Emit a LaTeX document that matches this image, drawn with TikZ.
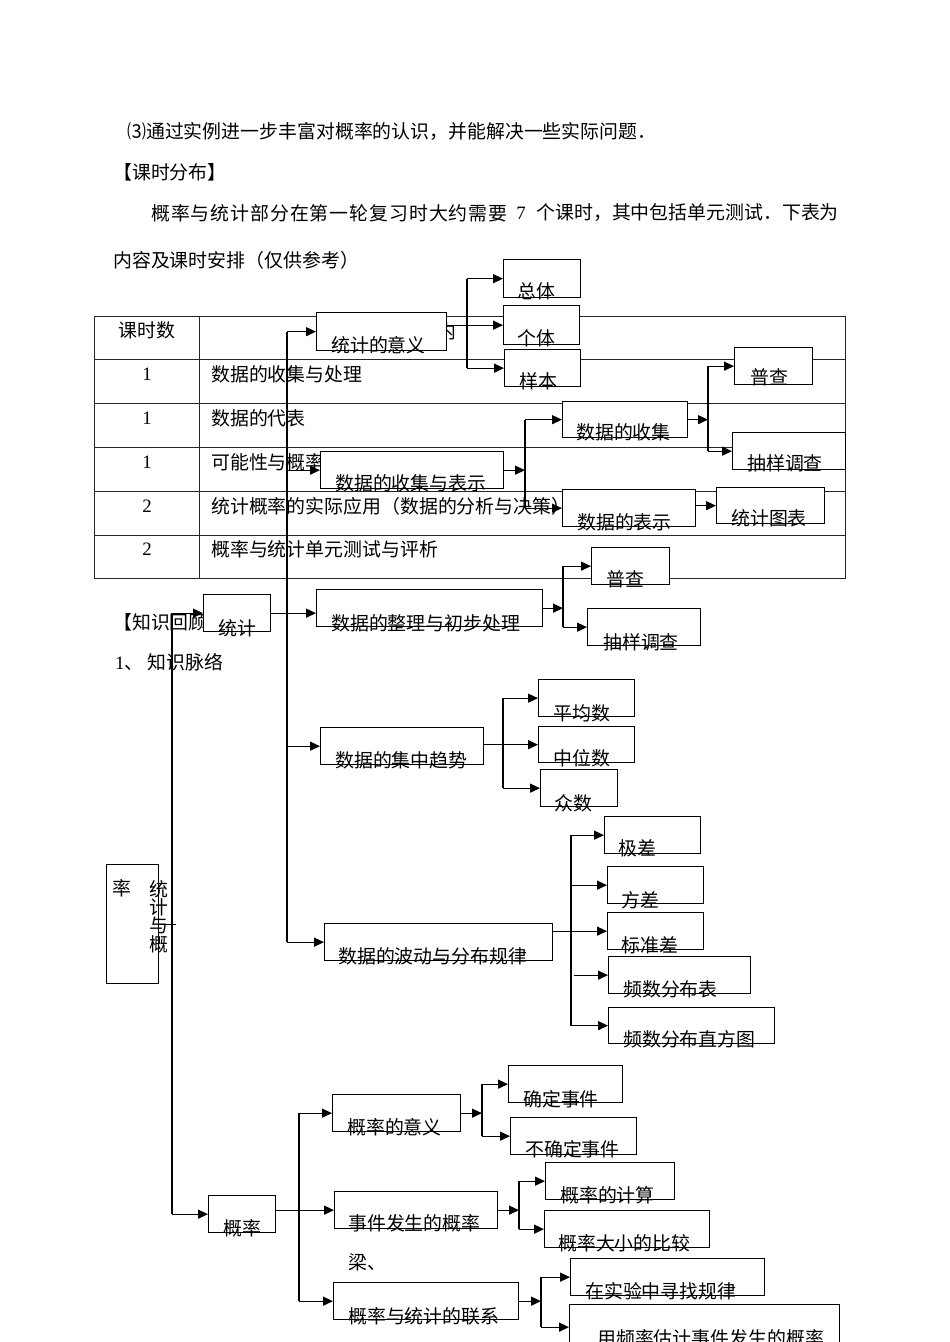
\documentclass[tikz,border=0pt]{standalone}
\usepackage{fontspec}
\setmainfont{Liberation Serif}
\newfontfamily\cjk{Noto Sans CJK SC}
\usetikzlibrary{arrows.meta}
\newcommand\fz{\fontsize{18.9}{20}\selectfont}
\newcommand\lbl[4]{\node[lb] (#1) at (#2,#3) {#4};}
\newcommand\bxn[6]{\node[bx, minimum width=#4, minimum height=#5] (#1) at (#2,#3) {}; #6}
\tikzset{
  bx/.style={draw, line width=1.3pt, fill=white, inner sep=0, anchor=north west},
  lb/.style={anchor=west, inner sep=0, font=\cjk\fz},
  num/.style={inner sep=0, font=\rmfamily\fz},
  tl/.style={line width=0.9pt, draw=black!85},
  ln/.style={line width=1.3pt},
  ar/.style={ln, -{Triangle[length=10pt,width=9pt]}}
}
\begin{document}
\begin{tikzpicture}[x=1pt,y=-1pt]
\useasboundingbox (0,0) rectangle (950,1342);
\clip (0,0) rectangle (950,1342);
\fill[white] (0,0) rectangle (950,1342);

% ---- paragraph text ----
\lbl{p1}{127}{131}{⑶通过实例进一步丰富对概率的认识，并能解决一些实际问题．}
\lbl{p2}{113}{172}{【课时分布】}
\lbl{p3a}{151}{213}{\addfontfeature{LetterSpace=5}概率与统计部分在第一轮复习时大约需要}
\node[num] (p3b) at (521,213) {7};
\node[lb, anchor=east] (p3c) at (839,213) {个课时，其中包括单元测试．下表为};
\lbl{p4}{113}{260}{内容及课时安排（仅供参考）}

% ---- table ----
\draw[tl] (94,316) rectangle (845,578);
\foreach \yy in {359,403,447,491,535} \draw[tl] (94,\yy) -- (845,\yy);
\draw[tl] (199,316) -- (199,578);
\node[lb, anchor=center] (h1) at (147,330) {课时数};
\lbl{h2}{437}{331}{内}
\node[num] (n1) at (147,374) {1};
\node[num] (n2) at (147,418) {1};
\node[num] (n3) at (147,462) {1};
\node[num] (n4) at (147,506) {2};
\node[num] (n5) at (147,549) {2};
\lbl{r1}{211}{374}{数据的收集与处理}
\lbl{r2}{211}{418}{数据的代表}
\lbl{r3}{211}{462}{可能性与概率}
\lbl{r4}{211}{506}{统计概率的实际应用（数据的分析与决策）}
\lbl{r5}{211}{549}{概率与统计单元测试与评析}

\lbl{k1}{113}{622}{【知识回顾】}
\lbl{k2}{115}{662}{\rmfamily 1\cjk 、 知识脉络}

% ---- boxes ----
\bxn{tjyy}{316}{312}{130}{38}{\lbl{t1}{331}{345}{统计的意义}}
\bxn{zt}{503}{259}{77}{38}{\lbl{t2}{517}{291}{总体}}
\bxn{gt}{503}{305}{76}{39}{\lbl{t3}{517}{338}{个体}}
\bxn{yb}{504}{349}{76}{37}{\lbl{t4}{519}{381}{样本}}
\bxn{sjsjbs}{320}{451}{183}{37}{\lbl{t5}{335}{483}{数据的收集与表示}}
\bxn{sjsj}{562}{401}{125}{36}{\lbl{t6}{576}{432}{数据的收集}}
\bxn{pc1}{734}{347}{78}{37}{\lbl{t7}{750}{377}{普查}}
\bxn{cy1}{732}{432}{113}{37}{\lbl{t8}{747}{463}{抽样调查}}
\bxn{sjbs}{562}{489}{133}{37}{\lbl{t9}{577}{522}{数据的表示}}
\bxn{tjtb}{716}{487}{108}{36}{\lbl{t10}{731}{518}{统计图表}}
\bxn{tj}{203}{594}{67}{37}{\lbl{t11}{218}{628}{统计}}
\bxn{zl}{316}{589}{226}{37}{\lbl{t12}{331}{623}{数据的整理与初步处理}}
\bxn{pc2}{591}{547}{78}{37}{\lbl{t13}{606}{579}{普查}}
\bxn{cy2}{587}{608}{113}{37}{\lbl{t14}{603}{642}{抽样调查}}
\bxn{jz}{320}{727}{163}{37}{\lbl{t15}{335}{760}{数据的集中趋势}}
\bxn{pjs}{538}{679}{96}{37}{\lbl{t16}{553}{713}{平均数}}
\bxn{zws}{538}{726}{96}{36}{\lbl{t17}{553}{758}{中位数}}
\bxn{zs}{540}{769}{77}{37}{\lbl{t18}{554}{803}{众数}}
\bxn{bd}{324}{923}{228}{37}{\lbl{t19}{338}{956}{数据的波动与分布规律}}
\bxn{jc}{604}{816}{96}{37}{\lbl{t20}{618}{848}{极差}}
\bxn{fc}{607}{866}{96}{37}{\lbl{t21}{621}{900}{方差}}
\bxn{bzc}{607}{912}{96}{37}{\lbl{t22}{621}{945}{标准差}}
\bxn{pb}{608}{956}{142}{37}{\lbl{t23}{623}{989}{频数分布表}}
\bxn{zft}{608}{1007}{166}{36}{\lbl{t24}{623}{1039}{频数分布直方图}}
\bxn{root}{106}{864}{52}{119}{}
\node[lb, anchor=center] (rt0) at (122,888) {率};
\node[lb, anchor=center] (rt1) at (158.5,889) {统};
\node[lb, anchor=center] (rt2) at (158.5,907) {计};
\node[lb, anchor=center] (rt3) at (158.5,925.5) {与};
\node[lb, anchor=center] (rt4) at (158.5,944) {概};
\bxn{gl}{208}{1195}{67}{37}{\lbl{t25}{223}{1228}{概率}}
\bxn{glyy}{332}{1094}{128}{37}{\lbl{t26}{347}{1127}{概率的意义}}
\bxn{sj}{334}{1191}{163}{37}{\lbl{t27}{348}{1223}{事件发生的概率}}
\lbl{t28}{348}{1262}{梁、}
\bxn{lx}{333}{1282}{185}{37}{\lbl{t29}{348}{1316}{概率与统计的联系}}
\bxn{qd}{508}{1065}{114}{37}{\lbl{t30}{523}{1099}{确定事件}}
\bxn{bqd}{510}{1117}{126}{37}{\lbl{t31}{525}{1149}{不确定事件}}
\bxn{js}{545}{1162}{129}{37}{\lbl{t32}{560}{1195}{概率的计算}}
\bxn{bj}{544}{1210}{165}{37}{\lbl{t33}{558}{1243}{概率大小的比较}}
\bxn{sy}{570}{1258}{194}{37}{\lbl{t34}{585}{1291}{在实验中寻找规律}}
\bxn{gj}{569}{1304}{270}{45}{\lbl{t35}{597}{1338}{用频率估计事件发生的概率}}

% ---- spines ----
\coordinate (sA) at (467,0);
\coordinate (sB) at (525,0);
\coordinate (sC) at (708,0);
\coordinate (sT) at (287,0);
\coordinate (sF) at (563,0);
\coordinate (sG) at (503,0);
\coordinate (sH) at (571,0);
\coordinate (sR) at (172,0);
\coordinate (sJ) at (299,0);
\coordinate (sK) at (482,0);
\coordinate (sL) at (519,0);
\coordinate (sM) at (541,0);

% group A
\draw[ln] (sA |- zt.west) -- (sA |- yb.west);
\draw[ar] (sA |- zt.west) -- (zt.west);
\draw[ar] (tjyy.east |- gt.west) -- (gt.west);
\draw[ar] (sA |- yb.west) -- (yb.west);
% group B
\draw[ar] (sjsjbs.east) -- (sB |- sjsjbs.east);
\draw[ln] (sB |- sjsj.west) -- (sB |- sjbs.west);
\draw[ar] (sB |- sjsj.west) -- (sjsj.west);
\draw[ar] (sB |- sjbs.west) -- (sjbs.west);
% group C
\draw[ar] (sjsj.east) -- (sC |- sjsj.east);
\draw[ln] (sC |- pc1.west) -- (sC |- cy1.west);
\draw[ar] (sC |- pc1.west) -- (pc1.west);
\draw[ar] (sC |- cy1.west) -- (cy1.west);
% group D
\draw[ar] (sjbs.east |- tjtb.west) -- (tjtb.west);
% trunk
\draw[ln] (sT |- tjyy.west) -- (sT |- bd.west);
\draw[ar] (sT |- tjyy.west) -- (tjyy.west);
\draw[ar] (sT |- sjsjbs.west) -- (sjsjbs.west);
\draw[ar] (sT |- jz.west) -- (jz.west);
\draw[ar] (sT |- bd.west) -- (bd.west);
\draw[ar] (tj.east) -- (tj.east -| zl.west);
% group F
\draw[ar] (zl.east) -- (sF |- zl.east);
\draw[ln] (sF |- pc2.west) -- (sF |- cy2.west);
\draw[ar] (sF |- pc2.west) -- (pc2.west);
\draw[ar] (sF |- cy2.west) -- (cy2.west);
% group G
\draw[ar] (jz.east |- zws.west) -- (zws.west);
\draw[ln] (sG |- pjs.west) -- (sG |- zs.west);
\draw[ar] (sG |- pjs.west) -- (pjs.west);
\draw[ar] (sG |- zs.west) -- (zs.west);
% group H
\draw[ar] (bd.east |- bzc.west) -- (bzc.west);
\draw[ln] (sH |- jc.west) -- (sH |- zft.west);
\draw[ar] (sH |- jc.west) -- (jc.west);
\draw[ar] (sH |- fc.west) -- (fc.west);
\draw[ar] ([xshift=3pt]sH |- pb.west) -- (pb.west);
\draw[ar] (sH |- zft.west) -- (zft.west);
% group I
\draw[ln] (root.east) -- +(17,0);
\draw[ln] (sR |- tj.west) -- (sR |- gl.west);
\draw[ar] (sR |- tj.west) -- (tj.west);
\draw[ar] (sR |- gl.west) -- (gl.west);
% group J
\draw[ar] (gl.east |- sj.west) -- (sj.west);
\draw[ln] (sJ |- glyy.west) -- (sJ |- lx.west);
\draw[ar] (sJ |- glyy.west) -- (glyy.west);
\draw[ar] (sJ |- lx.west) -- (lx.west);
% group K
\draw[ar] (glyy.east) -- (sK |- glyy.east);
\draw[ln] (sK |- qd.west) -- (sK |- bqd.west);
\draw[ar] (sK |- qd.west) -- (qd.west);
\draw[ar] (sK |- bqd.west) -- (bqd.west);
% group L
\draw[ar] (sj.east) -- (sL |- sj.east);
\draw[ln] (sL |- js.west) -- (sL |- bj.west);
\draw[ar] (sL |- js.west) -- (js.west);
\draw[ar] (sL |- bj.west) -- (bj.west);
% group M
\draw[ar] (lx.east) -- (sM |- lx.east);
\draw[ln] (sM |- sy.west) -- (sM |- gj.west);
\draw[ar] (sM |- sy.west) -- (sy.west);
\draw[ar] (sM |- gj.west) -- (gj.west);
\end{tikzpicture}
\end{document}
